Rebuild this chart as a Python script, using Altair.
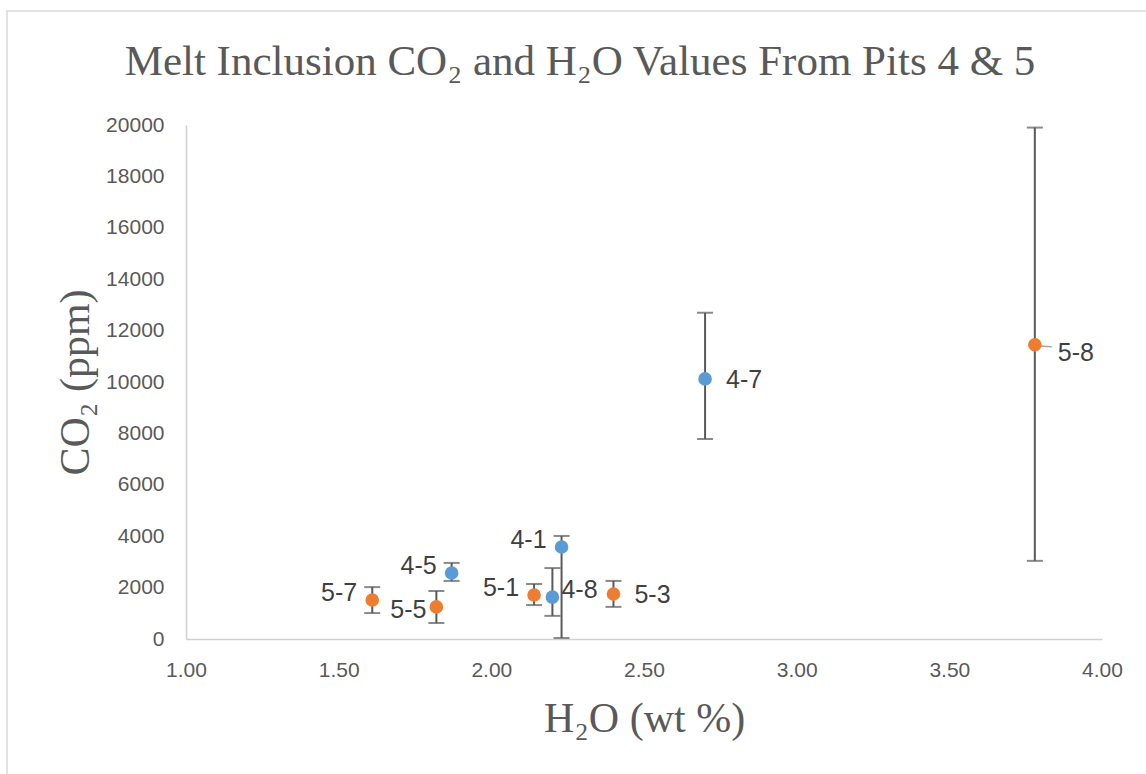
import altair as alt
import pandas as pd

names = ["4-1", "4-5", "4-7", "4-8", "5-1", "5-3", "5-5", "5-7", "5-8"]
pit = ["Pit 4", "Pit 4", "Pit 4", "Pit 4", "Pit 5", "Pit 5", "Pit 5", "Pit 5", "Pit 5"]
h2o = [2.23, 1.87, 2.70, 2.20, 2.14, 2.40, 1.82, 1.61, 3.78]
co2 = [3580, 2570, 10120, 1630, 1710, 1750, 1250, 1520, 11450]
co2_low = [40, 2260, 7780, 900, 1320, 1250, 620, 1010, 3040]
co2_high = [4010, 2960, 12690, 2760, 2140, 2260, 1870, 2020, 19900]

df = pd.DataFrame({"name": names, "pit": pit, "h2o": h2o, "co2": co2,
                   "lo": co2_low, "hi": co2_high})

W, H = 916, 514
colors = alt.Scale(domain=["Pit 4", "Pit 5"], range=["#5B9BD5", "#ED7D31"])
xs = alt.Scale(domain=[1, 4], nice=False, zero=False)
ys = alt.Scale(domain=[0, 20000], nice=False)

base = alt.Chart(df)

x_enc = alt.X("h2o:Q", scale=xs, title="H₂O (wt %)",
              axis=alt.Axis(values=[1, 1.5, 2, 2.5, 3, 3.5, 4], format=".2f",
                            grid=False, ticks=False, domainColor="#D0D0D0",
                            domainWidth=1.5, labelFont="Liberation Sans",
                            labelFontSize=21, labelColor="#595959",
                            labelFlush=False, labelPadding=20,
                            titleFont="Liberation Serif",
                            titleFontSize=42, titleFontWeight="normal",
                            titleColor="#595959", titlePadding=18))
y_enc = alt.Y("co2:Q", scale=ys, title="CO₂ (ppm)",
              axis=alt.Axis(values=list(range(0, 20001, 2000)), format="d",
                            grid=False, ticks=False, domainColor="#D0D0D0",
                            domainWidth=1.5, labelFlush=False,
                            labelFont="Liberation Sans", labelFontSize=21,
                            labelColor="#595959", labelPadding=22,
                            titleFont="Liberation Serif", titleFontSize=42,
                            titleFontWeight="normal", titleColor="#595959",
                            titlePadding=8))

err_color = "#595959"
bars = base.mark_rule(color=err_color, strokeWidth=2).encode(
    x=alt.X("h2o:Q", scale=xs), y=alt.Y("lo:Q", scale=ys), y2="hi:Q")
cap_lo = base.mark_tick(color=err_color, orient="horizontal", size=16, thickness=2).encode(
    x=alt.X("h2o:Q", scale=xs), y=alt.Y("lo:Q", scale=ys))
cap_hi = base.mark_tick(color=err_color, orient="horizontal", size=16, thickness=2).encode(
    x=alt.X("h2o:Q", scale=xs), y=alt.Y("hi:Q", scale=ys))

leader = base.transform_filter(alt.datum.name == "5-8").mark_rule(
    color="#A6A6A6", strokeWidth=1.5, x2Offset=17, yOffset=1, y2Offset=2).encode(
    x=alt.X("h2o:Q", scale=xs), x2="h2o:Q", y=alt.Y("co2:Q", scale=ys), y2="co2:Q")

points = base.mark_circle(size=185, opacity=1).encode(
    x=x_enc, y=y_enc,
    color=alt.Color("pit:N", scale=colors, legend=None))

def labels(group, align, dx, dy):
    return base.transform_filter(
        alt.FieldOneOfPredicate(field="name", oneOf=group)).mark_text(
        align=align, baseline="middle", dx=dx, dy=dy, font="Liberation Sans",
        fontSize=25, color="#404040").encode(
        x=alt.X("h2o:Q", scale=xs), y=alt.Y("co2:Q", scale=ys), text="name:N")

lab_right = labels(["4-7", "5-3"], "left", 21, 1)
lab_right2 = labels(["5-8"], "left", 23, 8)
lab_48 = labels(["4-8"], "left", 9, -7)
lab_left = labels(["5-7", "5-1", "4-5", "4-1"], "right", -15, -7)
lab_55 = labels(["5-5"], "right", -10, 3)

border = alt.Chart(pd.DataFrame({"a": [0]})).mark_rect(
    fill=None, stroke="#D9D9D9", strokeWidth=1.5).encode(
    x=alt.value(-179), x2=alt.value(1200), y=alt.value(-114), y2=alt.value(800))

chart = alt.layer(border, bars, cap_lo, cap_hi, leader, points,
                  lab_right, lab_right2, lab_48, lab_left, lab_55).properties(
    width=W, height=H,
    background="white",
    title=alt.TitleParams("Melt Inclusion CO₂ and H₂O Values From Pits 4 & 5",
                          font="Liberation Serif", fontSize=43,
                          fontWeight="normal", color="#595959",
                          anchor="middle", dx=-64, offset=-74),
    padding={"left": 186, "top": 125, "right": 44, "bottom": 135},
    autosize=alt.AutoSizeParams(type="none"),
).configure_view(stroke="transparent", strokeWidth=0)

chart.save("out.html", embed_options={"renderer": "svg", "actions": False})
